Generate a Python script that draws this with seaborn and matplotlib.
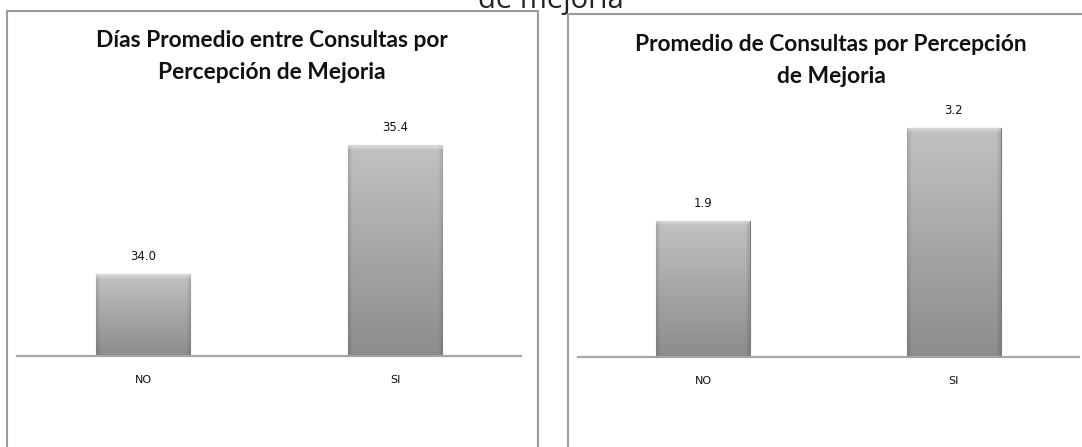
import numpy as np
import matplotlib
matplotlib.use("Agg")
import matplotlib.pyplot as plt
import seaborn as sns
from matplotlib.patches import Rectangle

# ---- data ----
categories = ["NO", "SI"]
dias_values = [34.0, 35.4]
consultas_values = [1.9, 3.2]
title_left = ["Días Promedio entre Consultas por", "Percepción de Mejoria"]
title_right = ["Promedio de Consultas por Percepción", "de Mejoria"]
top_text = "de mejoria"

sns.set_theme(style="white")
plt.rcParams["font.family"] = ["DejaVu Sans"]

W, H = 1082, 447
fig = plt.figure(figsize=(W / 100, H / 100), dpi=100)
fig.patch.set_facecolor("white")


def fx(px):
    return px / W


def fy(py):
    return 1 - py / H


BORDER = "#9c9c9c"
AXC = "#a6a6a6"

# panel borders
fig.add_artist(Rectangle((fx(7), -0.1), fx(538 - 7), fy(11) + 0.1, transform=fig.transFigure,
                         fill=False, edgecolor=BORDER, linewidth=1.5))
fig.add_artist(Rectangle((fx(568), -0.1), fx(1110 - 568), fy(14) + 0.1, transform=fig.transFigure,
                         fill=False, edgecolor=BORDER, linewidth=1.5))

fig.text(fx(551), fy(8), top_text, ha="center", va="baseline", fontsize=21,
         family=["Open Sans", "DejaVu Sans"], color="#222222")


def gradient_bars(ax):
    ylo = ax.get_ylim()[0]
    xl, yl = ax.get_xlim(), ax.get_ylim()
    for p in list(ax.patches):
        x, y = p.get_x(), p.get_y()
        w, h = p.get_width(), p.get_height()
        y0 = max(y, ylo)
        y1 = y + h
        ph = abs(ax.transData.transform((0, y1))[1] - ax.transData.transform((0, y0))[1])
        rows = max(int(ph), 2)
        cols = 60
        t = np.linspace(0, 1, rows)[:, None]
        bottom = np.array([0.55, 0.55, 0.55])
        top = np.array([0.76, 0.76, 0.76])
        img = bottom + (top - bottom) * t[..., None]
        img = np.repeat(img, cols, axis=1)
        xs = np.linspace(0, 1, cols)
        edge = np.clip(np.minimum(xs, 1 - xs) / 0.04, 0, 1)
        img = img * (0.88 + 0.12 * edge)[None, :, None]
        nhl = min(5, rows)
        for k in range(nhl):
            f = 1 - k / nhl
            img[rows - 1 - k] = img[rows - 1 - k] * (1 - 0.6 * f) + 0.93 * 0.6 * f
        img = np.clip(img, 0, 1)
        im = ax.imshow(img, extent=[x, x + w, y0, y1], origin="lower", aspect="auto",
                       interpolation="bilinear", zorder=p.get_zorder() + 0.1)
        im.set_clip_path(p)
    ax.set_xlim(xl)
    ax.set_ylim(yl)


def make_panel(rect_px, values, ylim, fmt, title_lines, title_x, baselines):
    l, r, b, t = rect_px
    ax = fig.add_axes([fx(l), fy(b), fx(r - l), fy(t) - fy(b)])
    sns.barplot(x=categories, y=values, ax=ax, width=0.375, color="#a9a9a9",
                edgecolor="#7c7c7c", linewidth=0.8, saturation=1)
    ax.set_xlim(-0.5, 1.5)
    ax.set_ylim(*ylim)
    ax.set_facecolor("none")
    for s in ["top", "right", "left"]:
        ax.spines[s].set_visible(False)
    ax.spines["bottom"].set_color(AXC)
    ax.spines["bottom"].set_linewidth(1.6)
    ax.spines["bottom"].set_zorder(5)
    ax.set_yticks([])
    ax.set_xticks([-0.5, 0.5, 1.5], minor=True)
    ax.tick_params(axis="x", which="minor", length=4.5, width=1.6, color=AXC, direction="out")
    ax.tick_params(axis="x", which="major", length=0, pad=14, labelsize=8, labelcolor="#111111")
    ax.set_xlabel("")
    ax.set_ylabel("")
    gradient_bars(ax)
    for i, v in enumerate(values):
        ax.annotate(fmt.format(v), (i, v), xytext=(0, 8), textcoords="offset points",
                    ha="center", va="bottom", fontsize=8.5, color="#111111")
    for line, yb in zip(title_lines, baselines):
        fig.text(fx(title_x), fy(yb), line, ha="center", va="baseline", fontsize=16.4,
                 fontweight="bold", family=["Lato", "DejaVu Sans"], color="#111111")
    return ax


make_panel((17, 521, 356, 100), dias_values, (33.11, 33.11 + 256 / 92.1), "{:.1f}",
           title_left, 272, (47, 79))
make_panel((578, 1079, 357, 100), consultas_values, (0, 257 / 71.6), "{:.1f}",
           title_right, 831, (51, 83))

fig.savefig("out.png", dpi=100, facecolor="white")
